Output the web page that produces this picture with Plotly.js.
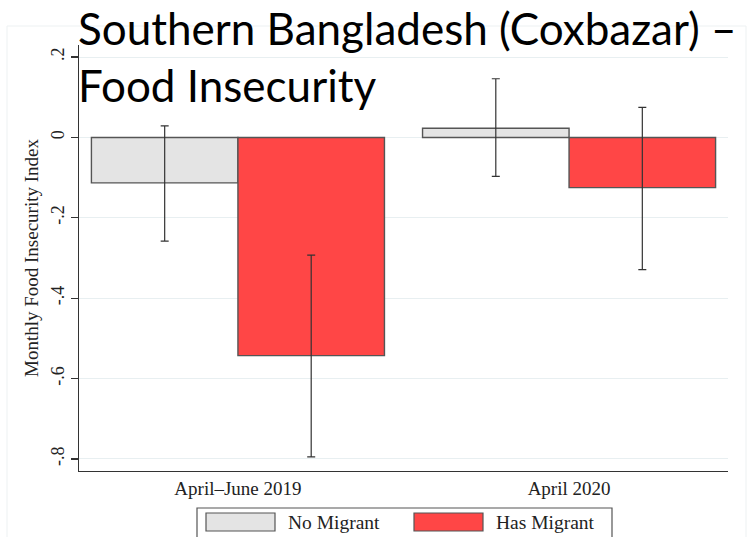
<!DOCTYPE html>
<html>
<head>
<meta charset="utf-8">
<script src="https://cdn.plot.ly/plotly-3.0.1.min.js"></script>
<style>
  html, body { margin: 0; padding: 0; background: #ffffff; }
  #chart { width: 754px; height: 537px; }
</style>
</head>
<body>
<div id="chart"></div>
<script>
// Survey periods on the x axis
const periods = ['April\u2013June 2019', 'April 2020'];

// Household groups
const seriesNames = ['No Migrant', 'Has Migrant'];

// Mean monthly food insecurity index by group and period
const noMigrantMean = [-0.113, 0.023];
const hasMigrantMean = [-0.543, -0.125];

// Confidence interval bounds
const noMigrantLow = [-0.258, -0.097];
const noMigrantHigh = [0.029, 0.146];
const hasMigrantLow = [-0.795, -0.329];
const hasMigrantHigh = [-0.293, 0.075];

// Y axis ticks
const yTickVals = [-0.8, -0.6, -0.4, -0.2, 0, 0.2];
const yTickText = ['-.8', '-.6', '-.4', '-.2', '0', '.2'];

const serif = 'Liberation Serif, Times New Roman, serif';
const fillColors = ['#e4e4e4', '#ff4646'];

function errorFor(mean, low, high) {
  return {
    type: 'data',
    symmetric: false,
    array: high.map((h, i) => h - mean[i]),
    arrayminus: low.map((l, i) => mean[i] - l),
    color: '#333333',
    thickness: 1.2,
    width: 4
  };
}

const traces = [
  {
    type: 'bar',
    name: seriesNames[0],
    x: periods,
    y: noMigrantMean,
    marker: { color: fillColors[0], line: { color: '#555555', width: 1.4 } },
    error_y: errorFor(noMigrantMean, noMigrantLow, noMigrantHigh),
    hoverinfo: 'x+y+name'
  },
  {
    type: 'bar',
    name: seriesNames[1],
    x: periods,
    y: hasMigrantMean,
    marker: { color: fillColors[1], line: { color: '#555555', width: 1.4 } },
    error_y: errorFor(hasMigrantMean, hasMigrantLow, hasMigrantHigh),
    hoverinfo: 'x+y+name'
  }
];

// Plot area geometry in pixels, used to place the title, frame and boxed legend
const W = 754, H = 537;
const M = { l: 79, r: 26, t: 45, b: 66 };
const plotW = W - M.l - M.r, plotH = H - M.t - M.b;
const px = v => (v - M.l) / plotW;
const py = v => (H - M.b - v) / plotH;

const shapes = [
  // faint outer frame of the graph region
  { type: 'rect', xref: 'paper', yref: 'paper',
    x0: px(7), x1: px(746), y0: py(560), y1: py(26),
    line: { color: '#edf1f2', width: 1 }, fillcolor: 'rgba(0,0,0,0)', layer: 'below' },
  // legend box and swatches
  { type: 'rect', xref: 'paper', yref: 'paper',
    x0: px(197), x1: px(612), y0: py(548), y1: py(508),
    line: { color: '#555555', width: 1.2 }, fillcolor: '#ffffff', layer: 'above' },
  { type: 'rect', xref: 'paper', yref: 'paper',
    x0: px(206), x1: px(275), y0: py(531), y1: py(513),
    line: { color: '#555555', width: 1.2 }, fillcolor: fillColors[0], layer: 'above' },
  { type: 'rect', xref: 'paper', yref: 'paper',
    x0: px(414), x1: px(483), y0: py(531), y1: py(513),
    line: { color: '#555555', width: 1.2 }, fillcolor: fillColors[1], layer: 'above' }
];

const annotations = [
  { xref: 'paper', yref: 'paper', x: px(286), y: py(522), xanchor: 'left', yanchor: 'middle',
    text: seriesNames[0], showarrow: false, font: { family: serif, size: 19.5, color: '#222' } },
  { xref: 'paper', yref: 'paper', x: px(494), y: py(522), xanchor: 'left', yanchor: 'middle',
    text: seriesNames[1], showarrow: false, font: { family: serif, size: 19.5, color: '#222' } },
  // Slide-style heading laid over the top of the plot
  { xref: 'paper', yref: 'paper', x: px(76), y: py(0), xanchor: 'left', yanchor: 'top',
    align: 'left', showarrow: false,
    text: 'Southern Bangladesh (Coxbazar) \u2013<br>Food Insecurity',
    font: { family: 'Lato, Open Sans, sans-serif', size: 44, color: '#000000' } }
];

const layout = {
  width: W,
  height: H,
  margin: M,
  paper_bgcolor: '#ffffff',
  plot_bgcolor: '#ffffff',
  barmode: 'group',
  bargap: 0.115,
  bargroupgap: 0,
  showlegend: false,
  xaxis: {
    type: 'category',
    range: [-0.48, 1.48],
    showline: true,
    linecolor: '#333333',
    linewidth: 1.2,
    ticks: '',
    showgrid: false,
    tickfont: { family: serif, size: 19, color: '#222' },
    fixedrange: true
  },
  yaxis: {
    range: [-0.83, 0.23],
    tickvals: yTickVals,
    ticktext: yTickText,
    tickangle: -90,
    ticks: 'outside',
    ticklen: 7,
    tickcolor: '#333333',
    tickwidth: 1.2,
    showline: true,
    linecolor: '#333333',
    linewidth: 1.2,
    showgrid: true,
    gridcolor: '#e8eff1',
    gridwidth: 1,
    zeroline: false,
    tickfont: { family: serif, size: 18, color: '#222' },
    title: {
      text: 'Monthly Food Insecurity Index',
      font: { family: serif, size: 19, color: '#222' },
      standoff: 4
    },
    fixedrange: true
  },
  shapes: shapes,
  annotations: annotations
};

Plotly.newPlot('chart', traces, layout, { displayModeBar: false, staticPlot: true });
</script>
</body>
</html>
